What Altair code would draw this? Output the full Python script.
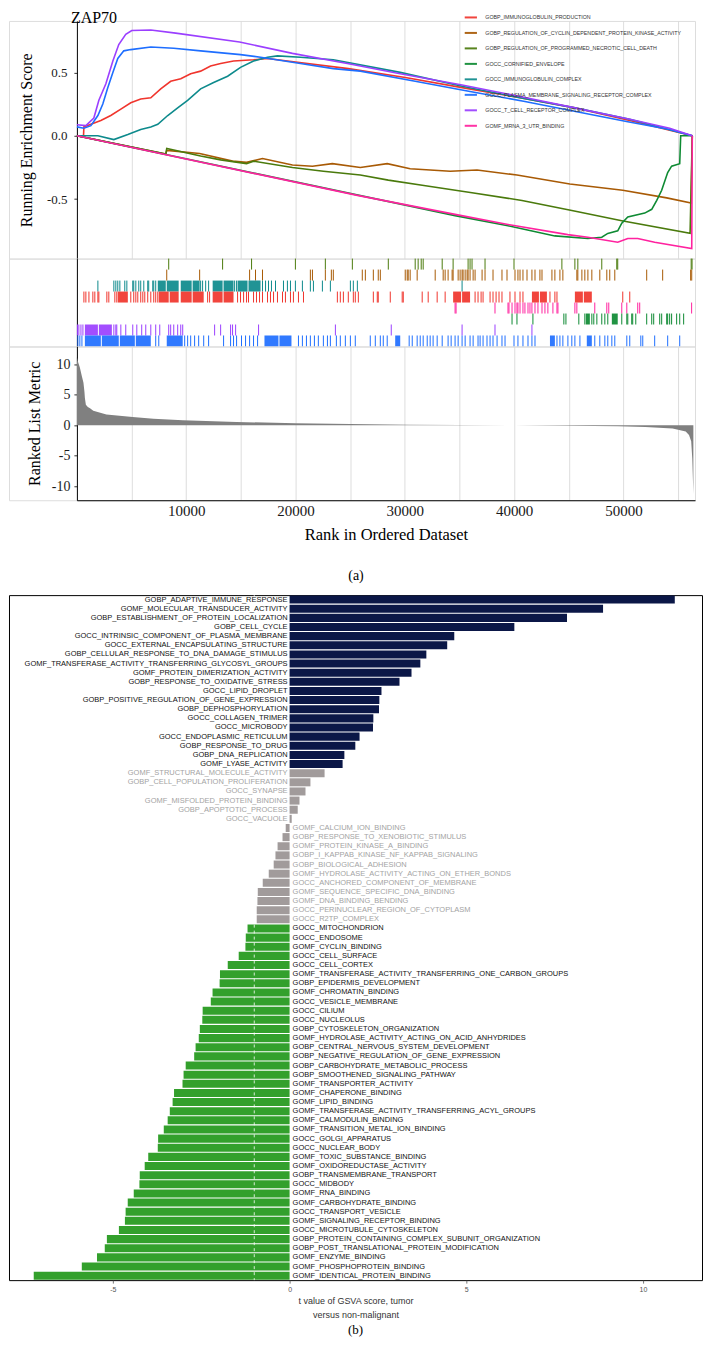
import altair as alt
import pandas as pd

SERIF = "Liberation Serif"
SANS = "Liberation Sans"

# ---------------- Panel (a): running enrichment score ----------------
SET_NAMES = [
    "GOBP_IMMUNOGLOBULIN_PRODUCTION",
    "GOBP_REGULATION_OF_CYCLIN_DEPENDENT_PROTEIN_KINASE_ACTIVITY",
    "GOBP_REGULATION_OF_PROGRAMMED_NECROTIC_CELL_DEATH",
    "GOCC_CORNIFIED_ENVELOPE",
    "GOCC_IMMUNOGLOBULIN_COMPLEX",
    "GOCC_PLASMA_MEMBRANE_SIGNALING_RECEPTOR_COMPLEX",
    "GOCC_T_CELL_RECEPTOR_COMPLEX",
    "GOMF_MRNA_3_UTR_BINDING",
]
SET_COLORS = ["#F0352D", "#A85A05", "#4A7A0C", "#0E8A33", "#0D8A8C", "#1E6EFF", "#9B3FFF", "#FF229F"]

ES_RANK_RED = [0, 600, 640, 1280, 2190, 3100, 4020, 4930, 5840, 6760, 7670, 8580, 9500, 10410, 11320, 12230,
               13150, 14330, 16160, 17440, 19260, 24830, 30040, 35240, 40540, 45560, 50580, 56300]
ES_SCORE_RED = [0, -0.01, 0.07, 0.09, 0.12, 0.16, 0.21, 0.26, 0.29, 0.30, 0.37, 0.43, 0.45, 0.49, 0.51, 0.55,
                0.57, 0.59, 0.60, 0.61, 0.59, 0.53, 0.46, 0.38, 0.30, 0.22, 0.12, 0.0]
ES_RANK_BROWN = [0, 8130, 8220, 11230, 14240, 15520, 16980, 19720, 21550, 23370, 25930, 28390, 30490, 34150,
                 36610, 40260, 45100, 49940, 53960, 56200, 56300]
ES_SCORE_BROWN = [0, -0.145, -0.115, -0.14, -0.20, -0.21, -0.18, -0.23, -0.24, -0.22, -0.25, -0.22, -0.26, -0.28,
                  -0.27, -0.31, -0.38, -0.43, -0.49, -0.53, 0.0]
ES_RANK_OLIVE = [0, 8130, 8220, 11320, 13150, 15520, 16160, 19720, 22550, 25930, 28490, 31590, 36150, 40720,
                 45280, 49850, 56100, 56300]
ES_SCORE_OLIVE = [0, -0.145, -0.10, -0.16, -0.19, -0.22, -0.20, -0.25, -0.28, -0.31, -0.35, -0.39, -0.45, -0.51,
                  -0.59, -0.67, -0.77, 0.0]
ES_RANK_GREEN = [0, 34600, 39440, 43730, 46740, 48020, 48570, 49480, 49850, 50400, 51950, 52590, 53050, 53500,
                 54050, 54410, 55150, 55240, 56300]
ES_SCORE_GREEN = [0, -0.63, -0.71, -0.79, -0.81, -0.80, -0.77, -0.75, -0.69, -0.64, -0.61, -0.58, -0.51, -0.43,
                  -0.29, -0.24, -0.22, 0.0, 0.0]
ES_RANK_TEAL = [0, 1920, 3380, 4660, 5840, 6760, 7400, 8310, 9220, 10130, 11320, 12510, 13790, 14970, 16160,
                17440, 18350, 20450, 23460, 29580, 35240, 40540, 45560, 50580, 56300]
ES_SCORE_TEAL = [0, 0.0, -0.03, 0.01, 0.05, 0.07, 0.09, 0.16, 0.22, 0.28, 0.37, 0.42, 0.47, 0.54, 0.59,
                 0.62, 0.63, 0.62, 0.60, 0.50, 0.39, 0.30, 0.22, 0.13, 0.0]
ES_RANK_BLUE = [0, 640, 1280, 1920, 2370, 2830, 3290, 3740, 4290, 4930, 6760, 8860, 11320, 14970, 16800, 20450,
                23460, 25930, 30950, 35970, 40990, 45740, 50400, 54230, 56300]
ES_SCORE_BLUE = [0.07, 0.06, 0.08, 0.16, 0.25, 0.38, 0.50, 0.61, 0.67, 0.68, 0.70, 0.69, 0.67, 0.64, 0.62, 0.57,
                 0.53, 0.51, 0.43, 0.35, 0.27, 0.19, 0.11, 0.05, 0.0]
ES_RANK_PURPLE = [0, 820, 1550, 2010, 2650, 3290, 3830, 4470, 5020, 6760, 9040, 14880, 19720, 24740, 29580,
                  35240, 40540, 45560, 50580, 54230, 56300]
ES_SCORE_PURPLE = [0.087, 0.08, 0.14, 0.28, 0.41, 0.59, 0.72, 0.80, 0.83, 0.835, 0.81, 0.74, 0.65, 0.57, 0.49,
                   0.40, 0.31, 0.22, 0.13, 0.06, 0.0]
ES_RANK_PINK = [0, 25660, 34600, 39440, 44910, 46740, 49480, 50400, 51310, 52860, 56250, 56300]
ES_SCORE_PINK = [0, -0.47, -0.62, -0.70, -0.78, -0.80, -0.84, -0.81, -0.81, -0.84, -0.89, 0.0]

# ---------------- Panel (a): gene-set hit positions (rug) ----------------
RUG_ORDER = [  # top row to bottom row
    "GOBP_REGULATION_OF_PROGRAMMED_NECROTIC_CELL_DEATH",
    "GOBP_REGULATION_OF_CYCLIN_DEPENDENT_PROTEIN_KINASE_ACTIVITY",
    "GOCC_IMMUNOGLOBULIN_COMPLEX",
    "GOBP_IMMUNOGLOBULIN_PRODUCTION",
    "GOMF_MRNA_3_UTR_BINDING",
    "GOCC_CORNIFIED_ENVELOPE",
    "GOCC_T_CELL_RECEPTOR_COMPLEX",
    "GOCC_PLASMA_MEMBRANE_SIGNALING_RECEPTOR_COMPLEX",
]
HITS_OLIVE = [8400, 13330, 15980, 19990, 22730, 25200, 28490, 30950, 31220, 31500, 31680, 33420, 34420, 35790,
              35970, 36150, 37340, 39990, 44370, 45560, 45830, 48020, 49390, 49480, 56200, 56280]
HITS_BROWN = [8220, 11230, 15800, 16340, 16980, 21360, 21550, 22730, 23280, 23460, 26110, 26390, 27120, 27570,
              27760, 30040, 30220, 30310, 30490, 31130, 32780, 33510, 33690, 33960, 34330, 34420, 34880, 35060,
              35240, 35330, 35520, 35700, 35790, 35970, 36250, 36430, 37070, 37340, 38070, 38890, 39350, 40080,
              40350, 40540, 40810, 41180, 41630, 41910, 42360, 42550, 43460, 43730, 44190, 44460, 45740, 45830,
              46200, 46470, 46750, 47110, 47840, 48480, 48750, 49210, 52130, 53590, 56150, 56250]
HITS_TEAL = [1920, 3380, 3560, 3740, 3930, 4380, 4570, 5110, 5200, 5390, 5660, 5840, 6120, 6480, 6570, 6940,
             7030, 7210, 11320, 11500, 11780, 12050, 14430, 14610, 16980, 17260, 17530, 17800, 18170, 18900,
             19260, 19540, 19990, 20630, 21360, 21640, 22460, 23190, 25020, 25290, 25660, 35240]
BLOCKS_TEAL = [[7400, 8130], [8220, 9310], [9500, 10500], [10590, 11230], [12420, 13330], [13420, 14330],
               [14700, 15610], [15700, 16800]]
HITS_RED = [640, 820, 1100, 1460, 1640, 1920, 2010, 2740, 2920, 3470, 3650, 4930, 5200, 5390, 5570, 5840, 6030,
            6210, 6480, 6760, 7030, 7210, 7400, 11960, 12140, 14700, 14970, 15250, 15520, 15700, 16160, 16430,
            16710, 16980, 17440, 17710, 17990, 18350, 18810, 19080, 19540, 19810, 20270, 20730, 23830, 24100,
            24380, 24830, 25290, 25470, 25750, 27120, 27480, 27570, 28670, 29760, 29860, 31590, 32140, 32960,
            33690, 36430, 36700, 36980, 37160, 37800, 38070, 38350, 38620, 38890, 39620, 40080, 40540, 40810,
            43280, 43730, 43920, 49940, 50580]
BLOCKS_RED = [[3740, 4660], [7490, 8400], [8490, 9310], [9500, 10500], [10590, 11600], [12420, 13330],
              [13420, 14330], [34420, 35150], [35240, 35970], [41630, 42270], [42360, 43000], [45560, 46290],
              [46380, 47110]]
HITS_PINK = [34600, 34690, 38250, 39440, 39530, 39810, 40080, 40260, 40350, 40540, 40810, 40990, 41270, 41450,
             41630, 41910, 42180, 42550, 42820, 43090, 43550, 43920, 44010, 45560, 45740, 47380, 48480, 48660,
             49850, 50310, 51310, 51490, 56240]
HITS_GREEN = [39810, 40260, 41720, 44550, 44740, 45920, 46470, 47110, 47290, 47570, 48020, 48300, 48570, 49850,
              50310, 50400, 50760, 50850, 51130, 52130, 52590, 52770, 53320, 53500, 53960, 54050, 54230, 54410,
              54870, 55150, 55510]
BLOCKS_GREEN = [[46560, 46930], [48940, 49480]]
HITS_PURPLE = [50, 180, 370, 550, 3380, 3560, 3650, 4020, 4470, 5110, 5480, 5930, 6300, 6760, 7210, 7580, 8400,
               8580, 8860, 9220, 9500, 9680, 12600, 13150, 14060, 14240, 14520, 16620, 23650, 28760, 35240,
               38250, 41630]
BLOCKS_PURPLE = [[730, 1920], [2010, 3200]]
HITS_BLUE = [90, 270, 460, 7210, 7490, 9860, 10130, 10410, 10770, 11140, 11600, 12050, 13420, 14060, 14330,
             14610, 15060, 15430, 15800, 16160, 16530, 20270, 20630, 21000, 21360, 21730, 22090, 22550, 22920,
             23190, 23740, 24100, 24560, 25020, 25470, 26840, 27300, 27760, 28030, 28390, 30400, 30680, 31130,
             31410, 31680, 32050, 32320, 32590, 32960, 33420, 33960, 34240, 34600, 34880, 35240, 35520, 35970,
             36250, 36700, 36890, 37160, 37520, 37800, 38070, 38440, 38890, 39170, 39990, 40350, 40810, 41270,
             41630, 41910, 43920, 44190, 44460, 44920, 45280, 45560, 46020, 47380, 47840, 48300, 48570, 48940,
             49210, 50310, 50580, 51590, 51770, 52860, 54050, 55150]
BLOCKS_BLUE = [[730, 2190], [2280, 3830], [3930, 5300], [5390, 6760], [8220, 9680], [17160, 18440],
               [18530, 19630], [29120, 29580], [43280, 43730], [46650, 47110]]

# ---------------- Panel (a): ranked list metric ----------------
METRIC_RANK = [0, 90, 270, 460, 600, 690, 730, 820, 1000, 1200, 1500, 2700, 5100, 7000, 9700, 14600, 20000,
               25000, 30400, 35000, 40000, 45000, 49500, 52000, 54500, 55700, 56000, 56200, 56300, 56400]
METRIC_VALUE = [11.2, 10.5, 9.5, 8.0, 7.0, 5.5, 4.5, 3.4, 3.0, 2.8, 2.4, 1.8, 1.35, 1.1, 0.85, 0.55, 0.35,
                0.22, 0.1, 0.04, 0.0, -0.06, -0.15, -0.28, -0.5, -1.0, -1.6, -2.6, -5.5, -11.3]

X_DOMAIN = [0, 56550]
GRID_VALUES = [5000, 10000, 15000, 20000, 25000, 30000, 35000, 40000, 45000, 50000, 55000]
ES_TICKS = [-0.5, 0.0, 0.5]
METRIC_TICKS = [-10, -5, 0, 5, 10]

# ---------------- Panel (b): GSVA t values ----------------
GO_TERMS = [
    "GOBP_ADAPTIVE_IMMUNE_RESPONSE", "GOMF_MOLECULAR_TRANSDUCER_ACTIVITY",
    "GOBP_ESTABLISHMENT_OF_PROTEIN_LOCALIZATION", "GOBP_CELL_CYCLE",
    "GOCC_INTRINSIC_COMPONENT_OF_PLASMA_MEMBRANE", "GOCC_EXTERNAL_ENCAPSULATING_STRUCTURE",
    "GOBP_CELLULAR_RESPONSE_TO_DNA_DAMAGE_STIMULUS", "GOMF_TRANSFERASE_ACTIVITY_TRANSFERRING_GLYCOSYL_GROUPS",
    "GOMF_PROTEIN_DIMERIZATION_ACTIVITY", "GOBP_RESPONSE_TO_OXIDATIVE_STRESS", "GOCC_LIPID_DROPLET",
    "GOBP_POSITIVE_REGULATION_OF_GENE_EXPRESSION", "GOBP_DEPHOSPHORYLATION", "GOCC_COLLAGEN_TRIMER",
    "GOCC_MICROBODY", "GOCC_ENDOPLASMIC_RETICULUM", "GOBP_RESPONSE_TO_DRUG", "GOBP_DNA_REPLICATION",
    "GOMF_LYASE_ACTIVITY", "GOMF_STRUCTURAL_MOLECULE_ACTIVITY", "GOBP_CELL_POPULATION_PROLIFERATION",
    "GOCC_SYNAPSE", "GOMF_MISFOLDED_PROTEIN_BINDING", "GOBP_APOPTOTIC_PROCESS", "GOCC_VACUOLE",
    "GOMF_CALCIUM_ION_BINDING", "GOBP_RESPONSE_TO_XENOBIOTIC_STIMULUS", "GOMF_PROTEIN_KINASE_A_BINDING",
    "GOBP_I_KAPPAB_KINASE_NF_KAPPAB_SIGNALING", "GOBP_BIOLOGICAL_ADHESION",
    "GOMF_HYDROLASE_ACTIVITY_ACTING_ON_ETHER_BONDS", "GOCC_ANCHORED_COMPONENT_OF_MEMBRANE",
    "GOMF_SEQUENCE_SPECIFIC_DNA_BINDING", "GOMF_DNA_BINDING_BENDING", "GOCC_PERINUCLEAR_REGION_OF_CYTOPLASM",
    "GOCC_R2TP_COMPLEX", "GOCC_MITOCHONDRION", "GOCC_ENDOSOME", "GOMF_CYCLIN_BINDING", "GOCC_CELL_SURFACE",
    "GOCC_CELL_CORTEX", "GOMF_TRANSFERASE_ACTIVITY_TRANSFERRING_ONE_CARBON_GROUPS",
    "GOBP_EPIDERMIS_DEVELOPMENT", "GOMF_CHROMATIN_BINDING", "GOCC_VESICLE_MEMBRANE", "GOCC_CILIUM",
    "GOCC_NUCLEOLUS", "GOBP_CYTOSKELETON_ORGANIZATION", "GOMF_HYDROLASE_ACTIVITY_ACTING_ON_ACID_ANHYDRIDES",
    "GOBP_CENTRAL_NERVOUS_SYSTEM_DEVELOPMENT", "GOBP_NEGATIVE_REGULATION_OF_GENE_EXPRESSION",
    "GOBP_CARBOHYDRATE_METABOLIC_PROCESS", "GOBP_SMOOTHENED_SIGNALING_PATHWAY", "GOMF_TRANSPORTER_ACTIVITY",
    "GOMF_CHAPERONE_BINDING", "GOMF_LIPID_BINDING", "GOMF_TRANSFERASE_ACTIVITY_TRANSFERRING_ACYL_GROUPS",
    "GOMF_CALMODULIN_BINDING", "GOMF_TRANSITION_METAL_ION_BINDING", "GOCC_GOLGI_APPARATUS",
    "GOCC_NUCLEAR_BODY", "GOMF_TOXIC_SUBSTANCE_BINDING", "GOMF_OXIDOREDUCTASE_ACTIVITY",
    "GOBP_TRANSMEMBRANE_TRANSPORT", "GOCC_MIDBODY", "GOMF_RNA_BINDING", "GOMF_CARBOHYDRATE_BINDING",
    "GOCC_TRANSPORT_VESICLE", "GOMF_SIGNALING_RECEPTOR_BINDING", "GOCC_MICROTUBULE_CYTOSKELETON",
    "GOBP_PROTEIN_CONTAINING_COMPLEX_SUBUNIT_ORGANIZATION", "GOBP_POST_TRANSLATIONAL_PROTEIN_MODIFICATION",
    "GOMF_ENZYME_BINDING", "GOMF_PHOSPHOPROTEIN_BINDING", "GOMF_IDENTICAL_PROTEIN_BINDING",
]
T_VALUES = [
    10.9, 8.87, 7.85, 6.36, 4.66, 4.46, 3.87, 3.70, 3.45, 3.11, 2.60, 2.54, 2.53, 2.37, 2.36, 1.98, 1.86, 1.55,
    1.50, 0.99, 0.59, 0.45, 0.28, 0.23, 0.06, -0.11, -0.20, -0.34, -0.40, -0.45, -0.59, -0.76, -0.90, -0.91,
    -0.93, -0.93, -1.19, -1.24, -1.25, -1.44, -1.75, -1.97, -1.98, -2.18, -2.23, -2.46, -2.47, -2.54, -2.57,
    -2.66, -2.70, -2.94, -3.00, -3.03, -3.27, -3.31, -3.39, -3.45, -3.56, -3.72, -3.73, -4.00, -4.10, -4.24,
    -4.25, -4.41, -4.58, -4.64, -4.66, -4.83, -5.17, -5.23, -5.45, -5.88, -7.24,
]
T_DOMAIN = [-7.94, 11.67]
T_TICKS = [-5, 0, 5, 10]
T_THRESHOLD = 1.0
BAR_COLORS = {"up": "#0B1747", "ns": "#A19B9B", "down": "#33A02C"}
LABEL_COLORS = {"up": "#111111", "ns": "#A3A3A3", "down": "#111111"}

# ---------------- build tables ----------------
es_sets = [
    (SET_NAMES[0], ES_RANK_RED, ES_SCORE_RED), (SET_NAMES[1], ES_RANK_BROWN, ES_SCORE_BROWN),
    (SET_NAMES[2], ES_RANK_OLIVE, ES_SCORE_OLIVE), (SET_NAMES[3], ES_RANK_GREEN, ES_SCORE_GREEN),
    (SET_NAMES[4], ES_RANK_TEAL, ES_SCORE_TEAL), (SET_NAMES[5], ES_RANK_BLUE, ES_SCORE_BLUE),
    (SET_NAMES[6], ES_RANK_PURPLE, ES_SCORE_PURPLE), (SET_NAMES[7], ES_RANK_PINK, ES_SCORE_PINK),
]
es_rows = []
for i, (name, xs, ys) in enumerate(es_sets):
    for j, (x, y) in enumerate(zip(xs, ys)):
        es_rows.append({"set": name, "rank": x, "es": y, "k": i, "j": j})
es_df = pd.DataFrame(es_rows)

color_of = dict(zip(SET_NAMES, SET_COLORS))
hit_lists = {
    SET_NAMES[2]: (HITS_OLIVE, []), SET_NAMES[1]: (HITS_BROWN, []), SET_NAMES[4]: (HITS_TEAL, BLOCKS_TEAL),
    SET_NAMES[0]: (HITS_RED, BLOCKS_RED), SET_NAMES[7]: (HITS_PINK, []), SET_NAMES[3]: (HITS_GREEN, BLOCKS_GREEN),
    SET_NAMES[6]: (HITS_PURPLE, BLOCKS_PURPLE), SET_NAMES[5]: (HITS_BLUE, BLOCKS_BLUE),
}
tick_rows, block_rows = [], []
for name, (hits, blocks) in hit_lists.items():
    r = RUG_ORDER.index(name)
    for h in hits:
        tick_rows.append({"rank": h, "r0": r, "r1": r + 1, "col": color_of[name]})
    for a, b in blocks:
        block_rows.append({"a": a, "b": b, "r0": r, "r1": r + 1, "col": color_of[name]})
tick_df = pd.DataFrame(tick_rows)
block_df = pd.DataFrame(block_rows)

metric_df = pd.DataFrame({"rank": METRIC_RANK, "metric": METRIC_VALUE})

def group_of(v):
    if v > T_THRESHOLD:
        return "up"
    if v < -T_THRESHOLD:
        return "down"
    return "ns"

gsva_df = pd.DataFrame({"term": GO_TERMS, "t": T_VALUES})
gsva_df["grp"] = gsva_df["t"].map(group_of)
gsva_df["barcol"] = gsva_df["grp"].map(BAR_COLORS)
gsva_df["labcol"] = gsva_df["grp"].map(LABEL_COLORS)
gsva_df["zero"] = 0.0

# ---------------- layout constants (pixels) ----------------
A_LEFT = 68        # panel (a) plot starts this far right of the figure's left edge
A_RIGHT = 687      # panel (a) plot right edge
W_B = 694          # panel (b) frame width
H_B = 686

def xscale():
    return alt.Scale(domain=X_DOMAIN, range=[A_LEFT, A_RIGHT], nice=False, zero=False)

grid_axis = alt.Axis(values=GRID_VALUES, grid=True, gridColor="#d9d9d9", gridWidth=0.9,
                     labels=False, ticks=False, domain=False, title=None)

es_chart = alt.Chart(es_df).mark_line(strokeWidth=1.6).encode(
    x=alt.X("rank:Q", scale=xscale(), axis=grid_axis),
    y=alt.Y("es:Q", scale=alt.Scale(domain=[-0.969, 0.906], nice=False, zero=False),
            axis=alt.Axis(values=ES_TICKS, offset=-A_LEFT,
                          labelExpr="datum.value == 0 ? '0.0' : (datum.value < 0 ? '-' : '') + format(abs(datum.value), '.1f')",
                          labelFont=SERIF, labelFontSize=13, labelColor="#1a1a1a", labelPadding=7,
                          tickSize=3, tickColor="#333333", domainColor="#000000", domainWidth=1, grid=False,
                          title="Running Enrichment Score", titleFont=SERIF, titleFontSize=16,
                          titleFontWeight="normal", titleColor="#000000", titlePadding=12)),
    color=alt.Color("set:N", scale=alt.Scale(domain=SET_NAMES, range=SET_COLORS),
                    legend=alt.Legend(orient="none", legendX=A_LEFT + 387, legendY=-11, title=None,
                                      symbolType="stroke", symbolSize=150, symbolStrokeWidth=2,
                                      labelFont=SANS, labelFontSize=5.3, labelColor="#333333",
                                      labelLimit=400, labelOffset=7, rowPadding=3.5, padding=0)),
    order=alt.Order("j:Q"),
    detail="k:N",
).properties(
    width=A_RIGHT, height=238,
    title=alt.TitleParams("ZAP70", anchor="start", frame="group", font=SERIF, fontSize=16,
                          fontWeight="normal", color="#000000", offset=-5, dx=A_LEFT - 6),
)

rug_y = alt.Scale(domain=[0, 8], reverse=True, nice=False, zero=False)
rug_axis_y = alt.Axis(labels=False, ticks=False, title=None, grid=False, domainColor="#000000", domainWidth=1,
                      offset=-A_LEFT)
rug_ticks = alt.Chart(tick_df).mark_rule(strokeWidth=1).encode(
    x=alt.X("rank:Q", scale=xscale(), axis=None),
    y=alt.Y("r0:Q", scale=rug_y, axis=rug_axis_y),
    y2="r1:Q",
    color=alt.Color("col:N", scale=None),
)
rug_blocks = alt.Chart(block_df).mark_rect(opacity=0.92).encode(
    x=alt.X("a:Q", scale=xscale(), axis=None),
    x2="b:Q",
    y=alt.Y("r0:Q", scale=rug_y, axis=rug_axis_y),
    y2="r1:Q",
    color=alt.Color("col:N", scale=None),
)
rug_chart = alt.layer(rug_ticks, rug_blocks).properties(width=A_RIGHT, height=88)

metric_chart = alt.Chart(metric_df).mark_area(color="#808080").encode(
    x=alt.X("rank:Q", scale=xscale(),
            axis=alt.Axis(values=GRID_VALUES, grid=True, gridColor="#d9d9d9", gridWidth=0.9,
                          labelExpr="datum.value % 10000 == 0 ? format(datum.value, 'd') : ''",
                          labelFont=SERIF, labelFontSize=15, labelColor="#1a1a1a", labelPadding=3,
                          ticks=False, domainColor="#000000", domainWidth=1,
                          title="Rank in Ordered Dataset", titleFont=SERIF, titleFontSize=16.5,
                          titleFontWeight="normal", titleColor="#000000", titlePadding=8)),
    y=alt.Y("metric:Q", scale=alt.Scale(domain=[-12.3, 12.95], nice=False, zero=False),
            axis=alt.Axis(values=METRIC_TICKS, offset=-A_LEFT,
                          labelExpr="(datum.value < 0 ? '-' : '') + abs(datum.value)",
                          labelFont=SERIF, labelFontSize=14, labelColor="#1a1a1a", labelPadding=4,
                          tickSize=3, tickColor="#333333", domainColor="#000000", domainWidth=1, grid=False,
                          title="Ranked List Metric", titleFont=SERIF, titleFontSize=16,
                          titleFontWeight="normal", titleColor="#000000", titlePadding=9)),
    y2=alt.datum(0),
).properties(
    width=A_RIGHT, height=154,
    title=alt.TitleParams("(a)", orient="bottom", anchor="middle", frame="group", font=SERIF, fontSize=14,
                          fontWeight="normal", color="#000000", offset=26, dx=4),
)

panel_a = alt.vconcat(es_chart, rug_chart, metric_chart, spacing=0, bounds="flush")

# Panel (b)
y_b = alt.Y("term:N", sort=GO_TERMS, axis=None, scale=alt.Scale(paddingInner=0.12, paddingOuter=0.05))
x_scale_b = alt.Scale(domain=T_DOMAIN, nice=False, zero=False)
bars = alt.Chart(gsva_df).mark_bar().encode(
    x=alt.X("t:Q", scale=x_scale_b,
            axis=alt.Axis(values=T_TICKS, labelExpr="(datum.value < 0 ? '-' : '') + abs(datum.value)",
                          labelFont=SANS, labelFontSize=7, labelColor="#555555", labelPadding=2,
                          tickSize=3, tickColor="#555555", tickWidth=0.8, domain=False, grid=False,
                          title=["t value of GSVA score, tumor", "versus non-malignant"],
                          titleFont=SANS, titleFontSize=9, titleFontWeight="normal", titleColor="#333333",
                          titlePadding=4, titleLineHeight=14)),
    x2=alt.X2("zero:Q"),
    y=y_b,
    color=alt.Color("barcol:N", scale=None),
)
thr_line = alt.Chart(pd.DataFrame({"v": [-T_THRESHOLD]})).mark_rule(
    color="#ffffff", strokeDash=[3, 3], strokeWidth=0.8
).encode(x=alt.X("v:Q", scale=x_scale_b))
lab_pos = alt.Chart(gsva_df).transform_filter("datum.t > 0").mark_text(
    align="right", baseline="middle", dx=-2, font=SANS, fontSize=7.5
).encode(x=alt.X("zero:Q", scale=x_scale_b), y=y_b, text="term:N", color=alt.Color("labcol:N", scale=None))
lab_neg = alt.Chart(gsva_df).transform_filter("datum.t <= 0").mark_text(
    align="left", baseline="middle", dx=3, font=SANS, fontSize=7.5
).encode(x=alt.X("zero:Q", scale=x_scale_b), y=y_b, text="term:N", color=alt.Color("labcol:N", scale=None))

panel_b = alt.layer(bars, thr_line, lab_pos, lab_neg).properties(
    width=W_B, height=H_B,
    view=alt.ViewBackground(stroke="#000000", strokeWidth=1),
    title=alt.TitleParams("(b)", orient="bottom", anchor="middle", frame="group", font=SERIF, fontSize=13,
                          fontWeight="normal", color="#000000", offset=5, dx=0),
)

chart = alt.vconcat(panel_a, panel_b, spacing=11).properties(
    padding={"left": 0, "top": 0, "right": 0, "bottom": 0}
).configure_view(stroke=None).configure(background="#ffffff")

chart.save("out.html", embed_options={"renderer": "svg", "actions": False})
